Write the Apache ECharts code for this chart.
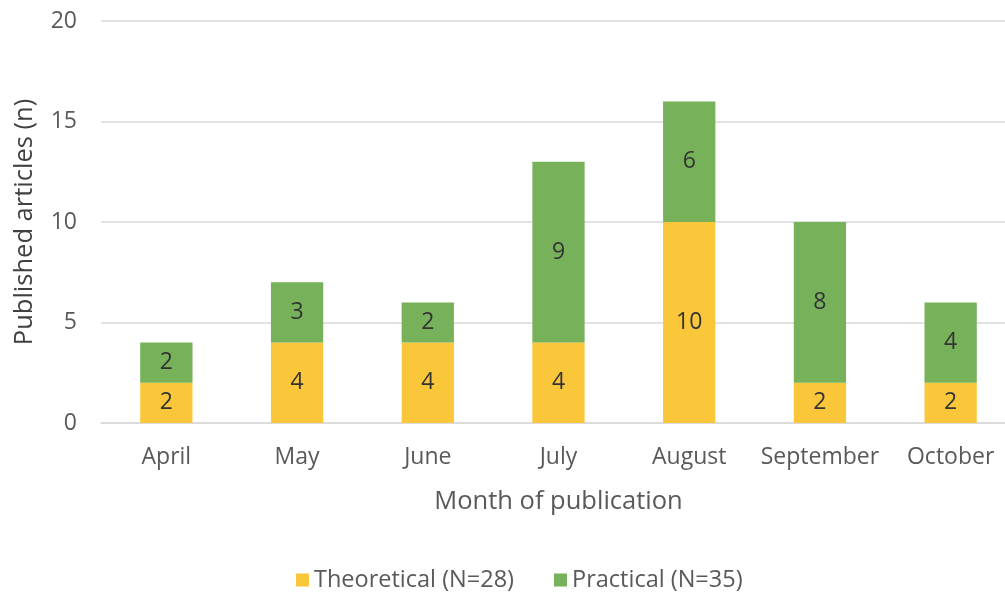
<!DOCTYPE html>
<html><head><meta charset="utf-8">
<script src="https://cdn.jsdelivr.net/npm/echarts@6/dist/echarts.min.js"></script>
<style>html,body{margin:0;padding:0;background:#fff}#c{width:1005px;height:592px}</style>
</head><body><div id="c"></div>
<script>
const categories = ['April','May','June','July','August','September','October'];
const theoretical = [2,4,4,4,10,2,2];
const practical = [2,3,2,9,6,8,4];
const seriesNames = ['Theoretical (N=28)','Practical (N=35)'];
const yTicks = [0,5,10,15,20];

const FONT = 'Open Sans';
const chart = echarts.init(document.getElementById('c'), null, {renderer:'canvas'});
const label = {show:true, position:'inside', color:'#333', fontSize:23, fontFamily:FONT};
chart.setOption({
  animation:false,
  textStyle:{fontFamily:FONT},
  grid:{left:101, top:21, width:915, height:402, containLabel:false, outerBoundsMode:'none'},
  legend:{top:563, left:291, itemWidth:13, itemHeight:13, itemGap:40,
    textStyle:{fontSize:23.5, color:'#595959', fontFamily:FONT},
    data:seriesNames.map(n=>({name:n, icon:'rect'}))},
  xAxis:{type:'category', data:categories,
    axisLine:{lineStyle:{color:'#d9d9d9', width:1.5}}, axisTick:{show:false},
    axisLabel:{color:'#595959', fontSize:23, margin:23, interval:0, fontFamily:FONT},
    name:'Month of publication', nameLocation:'middle', nameGap:66,
    nameTextStyle:{fontSize:25.5, color:'#595959', fontFamily:FONT}},
  yAxis:{type:'value', min:yTicks[0], max:yTicks[yTicks.length-1], interval:5,
    axisLine:{show:false}, axisTick:{show:false},
    splitLine:{lineStyle:{color:'#d9d9d9', width:1.5}},
    axisLabel:{color:'#595959', fontSize:23, margin:24, fontFamily:FONT},
    name:'Published articles (n)', nameLocation:'middle', nameGap:63,
    nameTextStyle:{fontSize:25.5, color:'#404040', fontFamily:FONT}},
  series:[
    {name:seriesNames[0], type:'bar', stack:'a', data:theoretical, barWidth:'40%',
     itemStyle:{color:'#FBC73A'}, label},
    {name:seriesNames[1], type:'bar', stack:'a', data:practical, barWidth:'40%',
     itemStyle:{color:'#77B25A'}, label}
  ]
});
</script></body></html>
